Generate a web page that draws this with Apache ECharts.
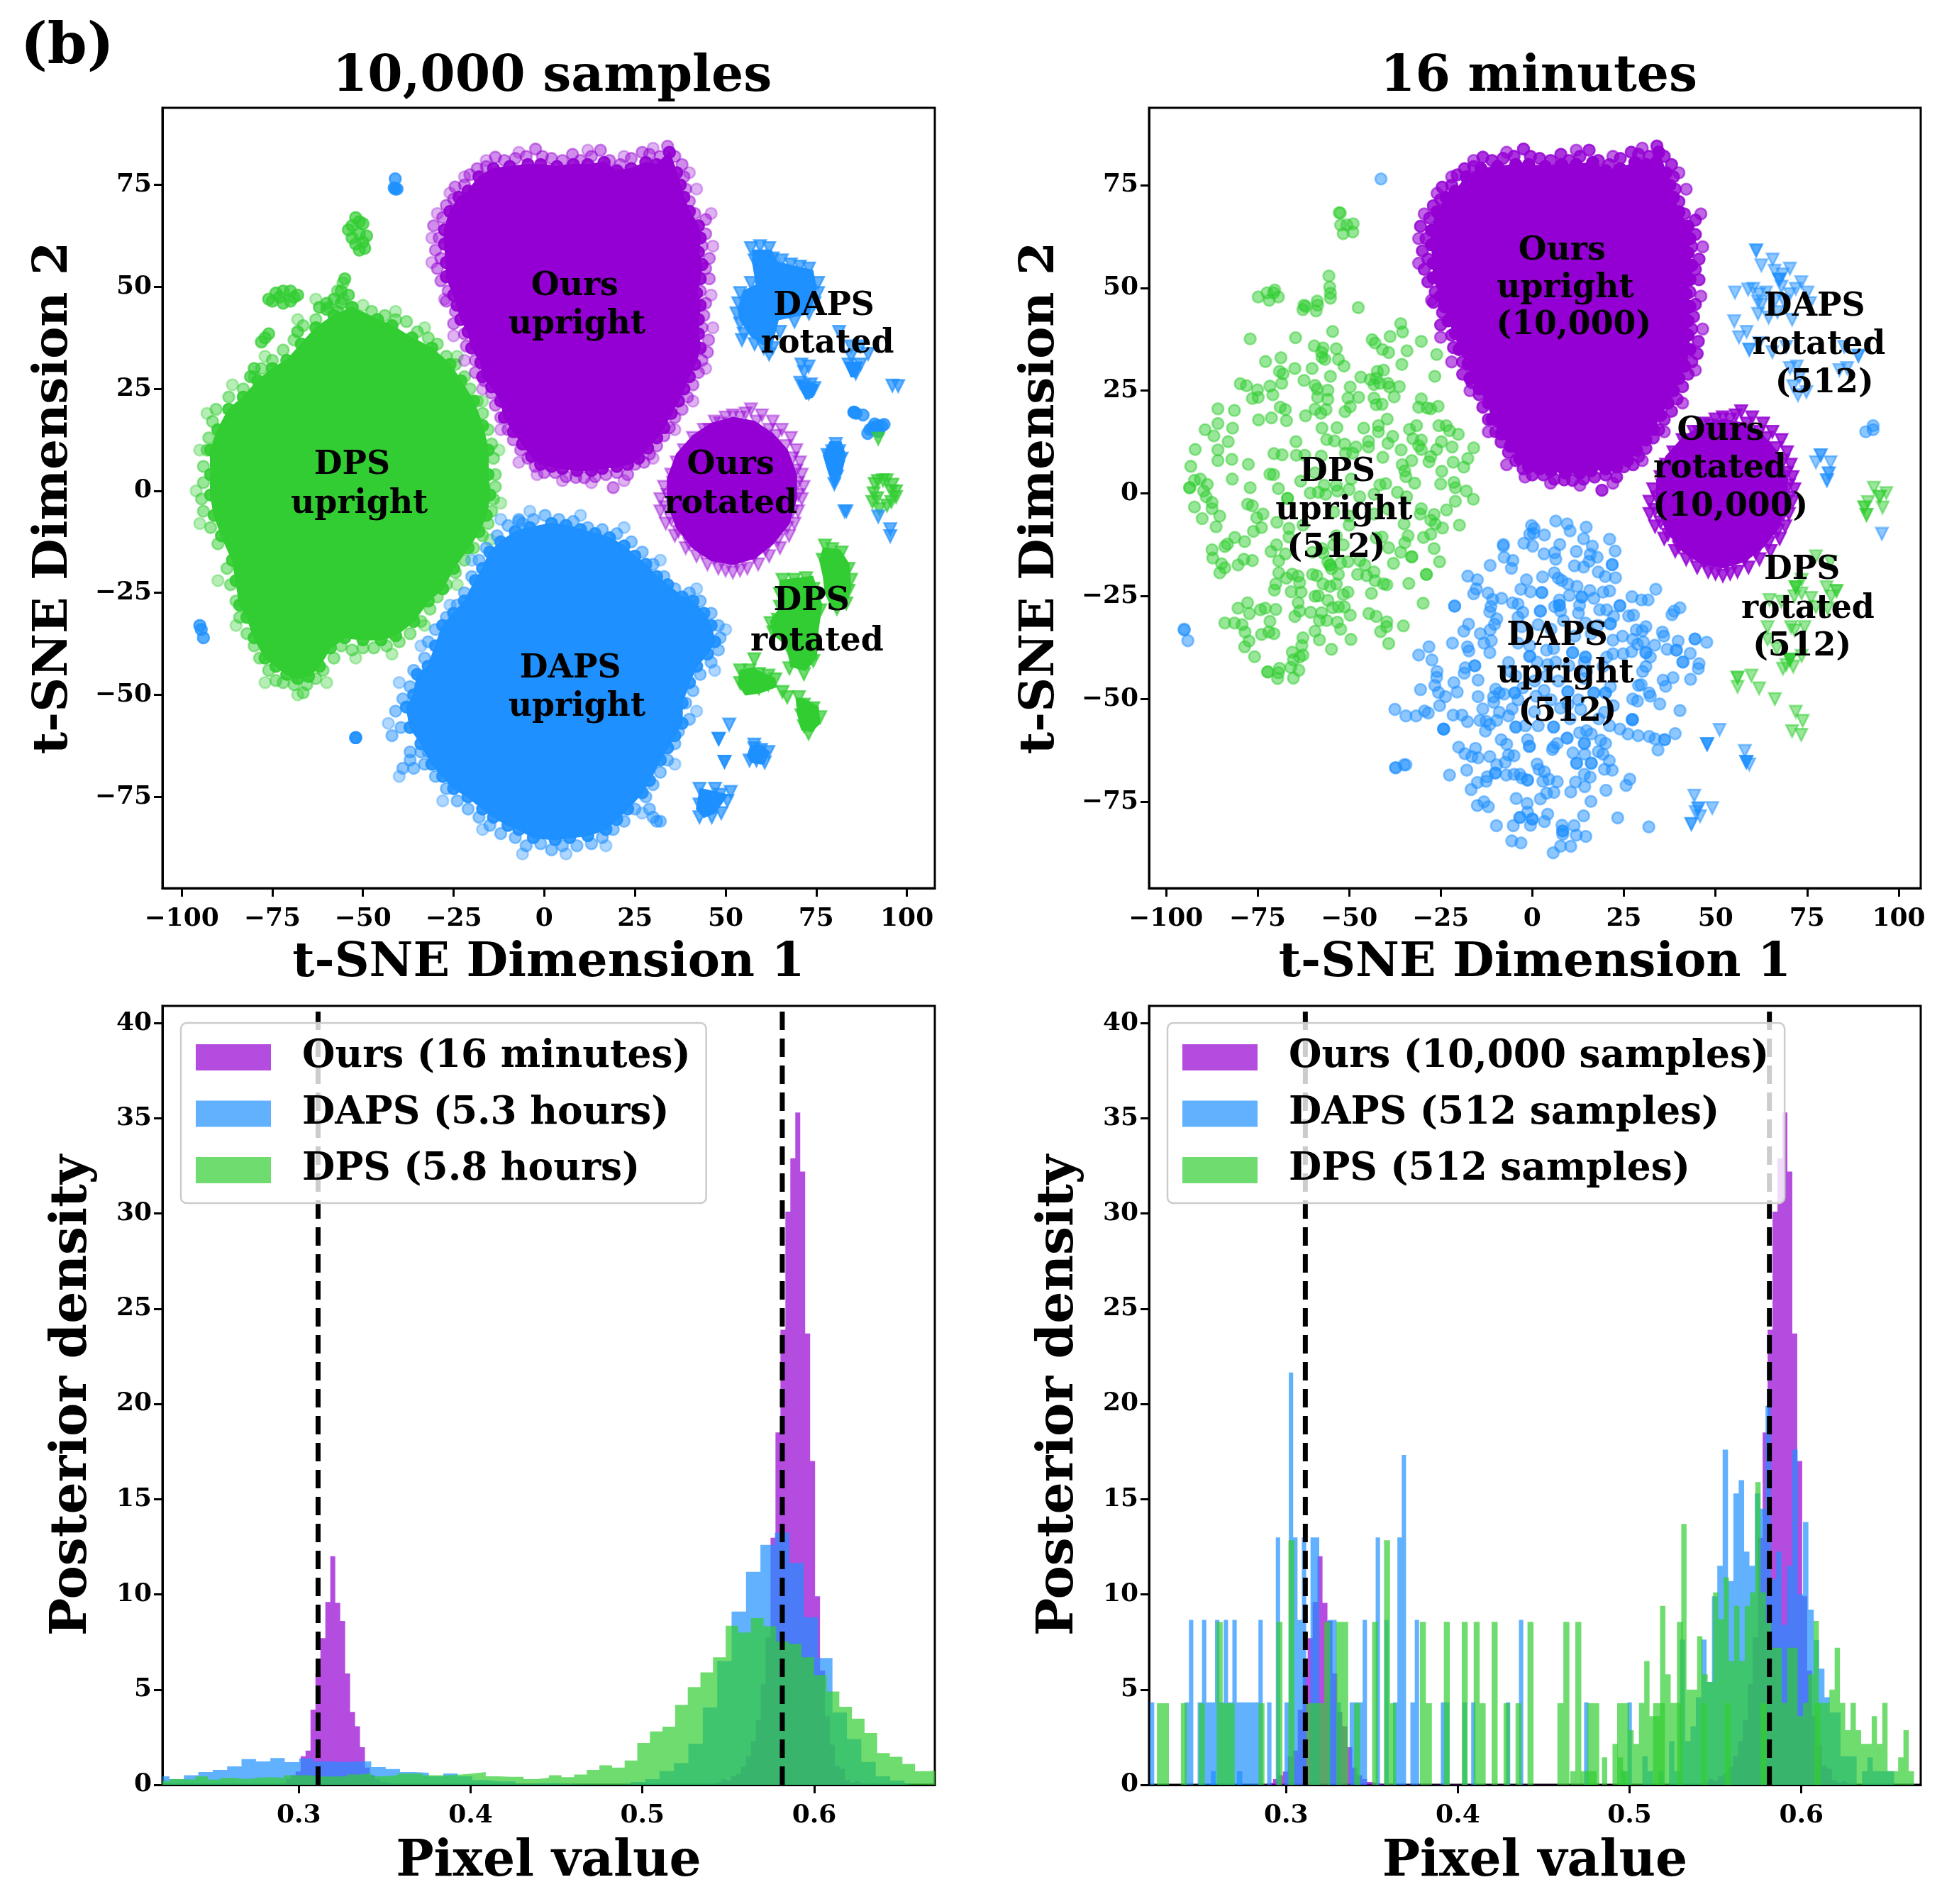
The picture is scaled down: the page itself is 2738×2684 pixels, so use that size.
<!DOCTYPE html>
<html><head><meta charset="utf-8"><style>html,body{margin:0;background:#fff}#c{width:2738px;height:2684px}</style>
<script src="https://cdn.jsdelivr.net/npm/echarts@6/dist/echarts.min.js"></script></head>
<body><div id="c"></div><script>
// t-SNE embeddings: flat x,y lists, one per cluster and drawing layer.
// The *Mid lists walk round the saturated body of a cluster; Rim and Loose hold its edge points.
const oursUprightRim=[34,84.5,32,82,29,82.5,27,83,24,81.5,21,80,18,81,15.5,83.5,13,82,10,81,7.8,82.5,5,81,2,81.5,-.5,82,-2.4,83.8,-5,82,-8,81.5,-11,81,-13.5,81.8,-16,79.5,-18.5,79,-20.5,77.5,-22,75,-24.6,74.5,-25,71.5,-27,70,-28,67,-30.5,65,-29,62,-30,59,-28.5,57,-29.5,54.5,-28.5,51.5,-26.5,49,-27,46.5,-24.5,44,-25,41,-22,38.5,-21.5,35.5,-19,32,-19,29,-16.5,27,-14.5,24,-13.5,21,-12,18,-10,15,-8.5,12.5,-6.5,10,-4.5,8,-2.5,6,0,4.5,3,4.5,6,3.5,8.7,3.3,11,3.2,14,3.5,17,4,19,.8,20,4.5,23,4,25,6.5,27.5,7,29,9,31,11,33,13.5,34.5,15.5,36,18,38,20,39.5,23,41,26,42.5,29,43.5,32,45,34,45.3,37,43.5,40,44,43,44.5,46,43,49,45.5,52,44.5,54.5,45.5,57,43.5,60,44.5,63,44.5,66.5,41.5,68,40,71,39,74,38.5,77,38,80,36,82];
const oursUprightLoose=[30,84,22,82,12,83.5,-7,83,-16,81,-22,77,-26,73,-29.5,68,-31,62,-31,56,-27.5,47,-25,38,-22,32,-17,25,-12,15,-7,7,-2,4,5,2.5,13,2,22,2.5,30,8,36,15,41,22,44.5,30,46.5,40,46,48,46.5,60,46,68,42,74,40,78];
const oursUprightMid=[34.5,83,31,80,28,80.5,24,79,20,78.5,16.5,80.5,12,80,8,80,3.5,79.5,-1,80,-4.5,80,-9.5,79.5,-14,79,-18,77,-21,73.5,-23.5,72,-26,68.5,-27.5,64,-27.5,60.5,-27,56,-27,52.5,-25,48,-24,45.5,-23,42,-21,39,-20,35,-17.5,31.5,-17,28,-14.5,25.5,-12,22,-11,18,-8.5,14.5,-6,11.5,-3.5,8.5,-1,6.5,2,6,5,5.5,9,5,13,5,16,5.5,20,6,23,6.5,26,8,28.5,10.5,31,13,33,15.5,35,19,37,22,38.5,25,40,28,41.5,31,43,35,42.5,38.5,42.5,42,43,45.5,42,48.5,43,52,43.5,55.5,42.5,58.5,43,62,42.5,65,40,68.5,38.5,72,37.5,75,36.5,78];
const oursRotatedRim=[57,20,54,18,60,18.5,50,18,47,17,63,17,65.5,15,44,15,68,13,41,13,69.5,10,38.5,10,70.5,7,36.5,7,71,4,35,4,71.5,1,33,1,71,-2,32,-2,70,-5,32,-5,69,-8,33.5,-8,67.5,-11,36,-11,65,-14,39,-14,62,-16,42,-16,59,-18,45,-18,56,-19,48,-19,52,-20,54,-19.5,50,-19.5,55.5,19,58.5,17,52,18.5,48.5,16.5,45.5,15,62,15,64,13.5,42.5,12,66.5,11,40,9,68.5,8,37.5,5,69.5,5,35.5,2,70,2,34,-1,70,-1,33.5,-4,68.5,-5,35,-7,67,-9,37,-10,64.5,-12,40,-13,61,-14.5,43.5,-15,58,-16,47,-16.5,53,-17];
const oursRotatedSolid=[52,18,58,17,63,14,67,10,69.5,4,69.5,-2,67.5,-8,63,-13,58,-16.5,52,-18,46,-17,41,-14,36.5,-9,34,-3,34,3,36.5,9,41,13.5,46,16.5];
const dpsUprightRim=[-47.6,44,-44,43,-41,42,-38,41.5,-35,39,-32,37.5,-29.5,36,-27,33,-24.5,31,-22,28,-20.5,25,-18.5,22,-17,19,-15.5,15,-14.5,11.5,-14,8,-13.5,4,-13.5,1,-14,-2,-14.5,-5,-15.5,-8,-17,-11,-19.5,-14,-22,-17,-24.5,-20,-27,-23,-29.5,-26,-31.5,-29,-34,-32,-37,-35,-40,-37,-43.5,-38,-47,-38.5,-50,-38.5,-53,-39,-56,-38,-58,-41,-61,-44,-63,-46,-65.5,-47.5,-66.5,-49.5,-69,-47.5,-72,-47,-74,-46.5,-76,-44,-78.5,-41,-80,-38,-82,-35,-84,-31,-85,-27,-86.5,-23,-87.5,-19,-90,-13,-92,-9,-94,-5,-94.5,-2,-94,2,-94,6,-93,10,-92.5,13,-91.5,17,-90.5,20,-87,23,-83,25,-80,28,-78,30,-75,32,-72,34.5,-69,37,-66.5,40.5,-63,42,-59.5,45,-55.5,47,-52,43,-55.5,51,-57,49];
const dpsUprightLoose=[-50,45.5,-41,44,-33,40,-24,33,-17,22,-12.5,10,-12,-3,-15,-12,-24,-23,-33,-33,-42,-40,-52,-41,-60,-47,-68,-50,-77,-47,-85,-33,-90,-22,-95,-8,-96,0,-95,10,-93,19,-86,26,-77,33,-68,42,-63,47];
const dpsUprightMid=[-46,42,-42,40.5,-36.5,37.5,-31,35,-26,31,-23,27,-19.5,22,-17,16,-15.5,10,-15.5,4,-15,-1,-16,-6,-18,-10,-21,-14,-25,-19,-28,-24,-32,-27,-36,-32,-41,-35.5,-45,-36.5,-50,-36.5,-55,-36,-59,-38.5,-62,-43,-65,-45.5,-68,-46,-71,-45,-74,-43,-77,-41,-80,-36,-82,-31,-84,-28,-85,-22,-86,-17,-89,-11,-91,-6,-92,-1,-92,4,-92,10,-90,15,-87,20,-83,23,-79,27,-75,30,-71,32,-67,36,-63,40,-58,43,-53,45];
const dpsOutlying=[-52,67,-50,65.5,-53,65,-51,63,-49,62.5,-52,60.5,-51,59,-50,61,-53,62,-54,64,-51,66,-49.5,59.5,-76,47,-74,48.5,-72,49,-70,49,-68,48,-75,46.5,-72,46,-70,46.5,-73,47.5,-69,47.5,-76,38.5,-78,36.5,-77,37.5,-62,45,-60,44.5,-58,47,-56,49,-55,52,-56,46,-60,46,-80,30,-81,28,-68,39,-57,44,-54,48];
const dapsUprightRim=[.2,-6,4,-7,8,-7.5,12,-9,16,-9.5,20,-10.5,24,-12.5,27,-15,30,-18,33,-21,36,-24,40,-25,43,-27,46,-30,48,-33,48.5,-36,48,-39,46,-42,43,-45,41,-49,39,-52,40,-56,37,-59,36,-62,34,-66,32,-69,30,-72,28,-75,25,-78,22,-81,19,-83,16,-85,13,-86.5,9,-87,5,-87,2,-88,-1,-86.5,-5,-87,-8,-85,-12,-84,-15,-82,-18,-80,-21,-78,-24,-76,-27,-73,-30,-70,-33,-67,-36,-68,-39,-68,-37,-64,-42,-60,-39.5,-58,-41,-54,-39,-51,-37,-48,-36,-44,-33,-41,-32,-37,-30,-34,-27,-31,-24,-28,-22,-25,-20,-21,-18,-17,-16,-14,-13,-11,-10,-8.5,-6,-8,-3,-7,29,-78,30,-80,32,-81,31,-81,-7,-7,-7,-7.5,-37,-66,-34,-64,-32,-64];
const dapsUprightLoose=[-4,-5,10,-6,22,-9,32,-17,42,-24,50,-34,47,-44,42,-54,36,-67,27,-79,17,-87,6,-89,-6,-89,-17,-83,-28,-76,-40,-70,-43,-57,-40,-47,-34,-38,-26,-28,-20,-17,-12,-7];
const dapsUprightMid=[2,-8,6,-8.5,10,-9.5,14,-10.5,18,-11.5,22,-13.5,25,-16,28,-18,31,-21,34,-23,38,-26,41,-27,44,-30,46,-33,47,-37,45,-40,42,-43,40,-47,38,-52,38,-57,36,-60,34,-63,32,-66,29,-71,27,-74,23,-78,20,-80.5,17,-83,12,-84.5,7,-85,3,-85.5,-3,-85,-7,-83,-10,-82,-14,-80,-17,-78,-21,-75,-25,-73,-28,-70,-31,-67,-34,-62,-37,-58,-38,-53,-36,-50,-35,-45,-32,-43,-30,-38,-28,-33,-25,-30,-22,-27,-19,-22,-17,-19,-15,-15,-12,-12.5,-8,-10,-4,-9];
const dapsStrayCircles=[-41.1,76.5,-41.1,74,-40.6,74,-41.4,74.3,-95,-33,-94.6,-34,-94,-36,-52,-60.5,-52,-60.5,85.4,19.3,85.4,19.3,86,19,87.9,18.6,89.8,15,91.1,16.4,93.1,15.9,89.2,14.1,93.7,16.3,92.1,14.6,90.5,15.5,92,16];
const dapsRotatedDense=[57,59.5,59.5,60,62,59.5,58,56.5,63,57,65.5,56.5,68,55.5,70.5,55,73,54.5,57,51,75.5,51,54,48.5,75.5,48.5,53.5,46,74.5,46,53,43.5,73,43.5,54,41,69,41.5,55,38.5,65,39,54.5,37,58,36,60.5,35,63,35,62,33.5,81.3,39,84.6,35.4,87.2,35.4,89.3,33.6,83.9,31,85.9,30,87.2,31,85.9,28.8,84.6,33,70.9,31,72.9,30.5,71.6,29.2,71.6,25.7,73.5,26.1,74.5,25.2,72.9,23.9,70.6,26.5,97.6,25.7,96,25.8,80.4,11.5,78.7,7.9,82,7.9,80,5.7,80.7,3.5,80,1.7,79.4,9.7,81.3,9.7,81,5.7,78.1,8.8,83.3,-5,82.8,-5,92.1,-6.3,95.4,-9.4,95.4,-11.1,51,-57.3,48.1,-60.8,48.1,-60.8,49.7,-66.4,49.7,-66.4,57.9,-63.1,59.8,-63.5,61.8,-64,56.6,-66.1,58.5,-66.1,60.8,-66.6,57.9,-62.2,42.8,-73,47.1,-73,51.4,-73.8,42.8,-76.9,47.1,-76.9,50.5,-76,42.8,-80,46.2,-80,44.5,-75.3,48.8,-79,45,-78,48.5,-74.5];
const dpsRotatedDense=[77.4,-13.4,79.4,-14.3,82,-15.1,76.8,-16.9,83.9,-19.1,84.6,-21.8,83.9,-24.5,83.3,-27.6,80.7,-28.9,65.7,-21.8,68.9,-21.8,72.2,-21.4,65,-25.3,74.2,-24,65,-28.4,62.4,-32.4,64.4,-31.6,65.7,-33.8,63.1,-34.7,76.1,-29.3,67.6,-39.1,74.2,-41.7,71.6,-44.9,67.6,-43.5,57.9,-41.3,54,-44,56.6,-44,59.2,-44.9,61.8,-45.3,63.7,-46.2,54,-47.1,56.6,-48,59.2,-48.4,61.8,-47.5,65.7,-49.3,67,-50.6,70.2,-50.6,71.6,-52.4,74.2,-53.3,70.9,-55,76.1,-55.5,71.6,-57.7,74.2,-57.3,72.9,-59.5,93.4,2.6,91.1,1.7,95.7,-.1,97,-.1,95.7,-2.7,91.8,-1.8,90.5,-2.7,92.4,-4.5,94.4,2.6,92,2.4,96,1.5,97,-1.5,94.5,-3.6,90.8,-.6,92.1,12.8];
const dapsRotatedPatches=[[57.5,59,62.5,59,64.5,56,74,54,75,49.5,73,43.5,64.5,42,62.5,35,60,36,57,38,54,42,53.5,44.5,55,49,58.5,50.5,57.5,56],[57,-62.5,60,-62.5,62,-64,60.5,-67,57,-66.5,56,-65],[43,-73,50.5,-74.5,47,-79,44,-80,42,-78],[70,27,75.5,26,74,23,72.2,22.5,71,24.5],[83,31.5,87.5,31.5,86,28,84.6,28],[78.8,12,81.8,12,83,8.8,82,4.6,80,.8,78.4,4.6,77,8.8]];
const dpsRotatedPatches=[[77,-14,81.5,-14.5,84,-18,84.5,-24,83,-28,79.5,-29,77.5,-25,77,-21,76,-17],[65,-22,74,-21,76.5,-28,75.5,-34,75,-41,72,-44,68,-43,67,-38,63,-35,62.5,-32,65.5,-28,65,-24],[54,-44,57.5,-43.5,63.5,-46,64,-48,59.5,-49.5,55.5,-50,53.5,-47.5],[69.5,-51,71.5,-51,75.5,-53,76,-57,73.5,-59,71,-58.5,70,-55]];
const dpsUprightSparse=[-52.7,68.3,-52.4,68.2,-52.3,65.3,-50.6,65.3,-48.9,65.6,-51.6,63.2,-49,63.6,-55.5,52.9,-55.3,50.2,-55.1,48.7,-55.1,47.5,-74.8,47.8,-72.4,48.8,-70.3,49.5,-70.6,48.8,-69.3,47.8,-71.8,47,-62.3,45.8,-62.6,44.7,-61.9,45.5,-58.7,46.8,-58.6,45.8,-59,44.4,-47.5,45.2,-77,37.6,-64.6,37.9,-54.5,39.4,-35.9,41.3,-35.4,39.3,-38.8,38.2,-43.7,37.4,-42.9,36.6,-40.9,35,-39.2,34.3,-30.3,37,-34.2,34.7,-26.1,33.8,-35.6,31.4,-26.6,28.5,-59.5,35.9,-57.1,35.4,-57.5,34.3,-57.4,33.1,-56.6,32.6,-53.5,35.2,-52.9,32.6,-51.4,31,-68.6,33,-72.8,32.1,-64.8,30.4,-60.1,30.4,-69,29.7,-68,29.1,-55.1,28.5,-62.3,27.5,-40.6,30,-42.3,29.7,-42.6,28,-46.8,28.3,-44.2,27.7,-43.2,26.5,-41.6,26.8,-39.4,26.8,-39,25.9,-36.3,26,-37.7,23.5,-43.2,23.2,-42.6,21.6,-41,21.7,-30.3,23,-31,21,-28.7,20.8,-27.7,20.6,-25.7,21.2,-79.7,26.7,-78,26.2,-71.6,26.1,-68.4,26.8,-70.8,24,-75,25.2,-76.4,23.1,-74.8,23.4,-59.3,26.3,-58.7,25.4,-55.8,25.1,-58.6,23.4,-55.8,22.9,-49.7,25.9,-50.3,23.2,-47.4,23.4,-49.7,21.1,-51.1,19.9,-59.3,20.5,-57.7,19.5,-56.3,20.4,-61.9,18.9,-85.8,20.6,-81.3,20.2,-68.8,21,-67.4,20.4,-74.7,17.9,-71.2,18.4,-67.1,17.7,-85.8,17,-89.3,15.5,-81.8,15.9,-86.9,14,-83,12.6,-57.4,15.9,-53.3,16,-46,15.9,-42,16.5,-42,15,-39.6,18.1,-33.5,15.6,-31.6,16.5,-25.5,16.5,-23.5,16.5,-22.6,15.3,-20.2,14.4,-56.1,13.1,-54,12.8,-51.2,12,-48.1,11.3,-44.7,12.7,-44.7,11.3,-64.5,12.6,-38.1,13.9,-39.4,12.2,-35.8,10.6,-32.6,13.3,-30.3,13,-31,11.6,-30.3,10.7,-24.8,12.6,-21.9,11.3,-16,11.1,-26.1,10.7,-27.7,9,-92,10.7,-85.8,10.6,-82,8.3,-85.8,8,-77.5,7.1,-93.2,6.6,-70.5,9.7,-68.3,9.4,-64.4,9.3,-62.1,9.3,-57.6,9.1,-51,9.8,-49,9.8,-40.8,8.8,-32.9,8,-28.2,7.7,-21.6,7.6,-17.6,8.5,-18.7,6.4,-35.5,7,-34.8,5.5,-24.7,5.4,-81.9,3.5,-71.6,4.7,-70.6,4.6,-90.6,3.5,-92.2,3.2,-88.7,2.2,-93.5,1.4,-93.5,1.4,-89.7,.6,-89,-.8,-77,1.4,-69.3,1.2,-63.2,3,-49.4,3.5,-41.6,2.1,-40,2.4,-34.5,4.1,-32.1,2.5,-25,2.3,-21.4,2.7,-21,1.4,-18,.6,-16.1,-1.4,-21,-1.9,-87.4,-2.2,-92.2,-3.3,-87.4,-3.7,-77.7,-2.6,-76.4,-3,-66.8,-1.2,-66.8,-1.2,-60.6,.1,-58.4,.3,-56.4,-.2,-53.2,.6,-50,1,-47.1,-.8,-43.2,-.2,-36.8,.3,-34.3,-.8,-85.3,-5.5,-90.1,-6.1,-86.3,-8.1,-73.5,-5,-75.2,-5.9,-73.9,-8.3,-76.1,-9.2,-69.7,-7,-66.4,-8.5,-30.3,-3.7,-30.6,-5,-23.4,-4,-26.8,-5.1,-27.7,-6.5,-26.5,-7.4,-24.5,-8.4,-19.9,-7.7,-35,-7.4,-50,-7.7,-62.6,-7.7,-33.9,-10.3,-29.7,-10.7,-27.7,-9.9,-34.8,-12,-41,-10.6,-42.6,-10.8,-53.5,-10.3,-66.4,-10.6,-81.2,-10.7,-78.5,-11.7,-83.2,-12.3,-83.9,-12.9,-87.4,-13.7,-59.3,5,-56.8,2,-53.5,2,-54.2,-4.5,-50,-5.5,-43.2,-5,-39.4,-3.8,-87.2,-15.7,-78.7,-16,-76.4,-16.3,-80.3,-17.4,-84.8,-17.1,-83.9,-18.1,-85.3,-19.3,-69.8,-12.5,-71.3,-14.1,-67.4,-14.7,-69.2,-16.4,-69.2,-19.3,-67.1,-20.6,-65.5,-19.6,-63.9,-20.1,-70,-22,-70.4,-23.5,-63.5,-21.7,-65.8,-23.9,-63.1,-24,-63.9,-26.6,-63.5,-28.6,-64.8,-29.9,-60,-19.7,-58.8,-20,-53.5,-22,-57.1,-22,-55.2,-22.6,-52.9,-19.7,-58.4,-24.9,-59.3,-25,-55.8,-26,-51.6,-24.6,-50.3,-24,-47.7,-19.7,-45.2,-20,-43.2,-19.1,-42.9,-21.2,-40.6,-22,-39.7,-22.2,-43.9,-24.3,-33.7,-21.9,-28.9,-19.7,-28.9,-19.7,-29.8,-26.7,-60.5,-28.9,-57.5,-29,-54.5,-27.8,-52.9,-27.6,-51.3,-27.6,-49.7,-29.6,-58.1,-30.9,-56.1,-30.9,-53.2,-31.3,-52.3,-33,-59.3,-33.5,-58.1,-35.6,-54.8,-37.9,-49.5,-35.5,-44.6,-29.2,-42.6,-29.9,-39.7,-31.2,-39.8,-32.4,-41.4,-33.6,-35.2,-32.2,-39.2,-36.5,-80.3,-27.9,-77.7,-26.6,-77.2,-29.2,-74.2,-28.3,-72.9,-27.9,-70,-28.2,-71.6,-31.1,-83.9,-31.5,-81.3,-31.5,-79.2,-31.9,-78.4,-33.7,-73.9,-34.3,-71.9,-33.7,-70.5,-34.1,-77.3,-35.9,-78.5,-37.3,-75.8,-39.7,-62.6,-35.1,-62.9,-37,-65.5,-38.6,-62.6,-39.3,-63.5,-39.8,-65.2,-40.5,-63.7,-43,-65.9,-42.3,-69,-42.5,-69.3,-43.6,-69.5,-45,-65.2,-44.9,-72.2,-43.4,-72.2,-43.4,-32.9,-15.4,-32.9,-15.4,-37.9,-17,-25.3,-16.6,-26.8,-13.4,-35.9,-14.3,-39.2,-13.2,-55.2,-17.4,-55.2,-17.4,-54.8,-18.3,-50.3,-16.6,-45.7,-17.4,-47.1,-16.3,-51.6,-12.5,-54.2,-12.5,-57.4,-13.4,-60,-14.3,-57.1,-14.5,-55.8,-16.6,-52.3,-16.9];
const dapsUprightSparse=[6.4,-6.7,9.5,-7.4,10.3,-9.1,14.7,-8.2,-.2,-7.8,.5,-8.5,.3,-9.7,-.7,-9.9,3.3,-10.1,-2.3,-12.1,.1,-12.8,7.5,-12.4,14,-11,21.1,-11.1,16.4,-12.8,22.6,-14,-7.9,-12.4,-7.9,-12.8,3.2,-14.7,6.1,-14.4,6.4,-16,12,-14.1,15.8,-14.8,17.7,-15.5,15.5,-16.5,-7.7,-15.5,-5.3,-16.3,-5.7,-18.2,-11.5,-17.5,11.5,-17.6,14,-17.9,21.8,-17.3,21.8,-17.3,-17.6,-20.1,-15,-21,18,-19.1,19.9,-20.2,22.7,-20.5,6,-19.3,7.1,-20.6,8.1,-21.2,9.7,-22,2.8,-20.3,-1.6,-21,12.2,-22.6,-3.1,-23.3,-.5,-23.9,2.6,-24.1,2.6,-24.1,-15.3,-23.2,-16,-24.4,-12.1,-24.2,-10.8,-25.8,-8.4,-25.5,10.1,-24.8,15.7,-23.6,19.3,-24,21.1,-23.7,13.5,-25.2,13.5,-25.2,16.8,-25.5,33.7,-23.3,27.2,-25.1,29.8,-25.9,31.6,-25.9,7.4,-25.9,7.4,-27.2,7.4,-27.2,6.1,-27.5,-5.4,-26.6,-3.9,-26.9,-11.3,-27.5,-11.6,-28.8,-21.2,-27.4,-21.2,-27.4,-2.6,-28.9,2.2,-28.6,2.2,-28.6,7.7,-28.6,12.9,-27.2,12.6,-29.1,23.9,-27.3,23.9,-27.3,18.4,-28.3,20.3,-28.3,22.2,-29.9,40.3,-27.8,38.7,-28.6,38.1,-29.5,26.3,-29.8,27.6,-29.6,-3.9,-30.1,-9.7,-30.5,8.5,-30.9,14.5,-31.5,17.9,-32.1,21.3,-31.7,21.3,-31.7,-17.4,-31.8,-18.7,-33.5,-10.3,-31.8,-11.5,-33.2,1.6,-31.9,-14.2,-34.1,31,-32.4,28.4,-33.2,30,-33.4,24.6,-34.7,35.5,-33.7,35.9,-34.7,-13.2,-36.4,-11.2,-35.8,-21.8,-36.4,-17.7,-37.3,-17.3,-38.3,22,-35.7,27.4,-35.5,28.7,-36.7,30.3,-36.1,33.4,-36.9,39.8,-35.9,44.4,-35.4,44.4,-35.4,47.6,-36.2,-28.2,-37.3,-31,-39.3,-11.6,-38.7,-27.4,-40.5,3.9,-38.1,5.8,-37.7,11,-38.7,11,-38.7,-.7,-39.6,-.7,-39.6,14.5,-39.8,14.5,-39.8,20.3,-39.8,22,-39,24.8,-39,27.1,-38.5,31,-38.7,31,-38.7,32.2,-39.8,36.8,-37.9,39.3,-38.1,39.3,-38.1,43.1,-38.9,41.1,-41,41.1,-41,45.5,-41.4,45.3,-42.6,-6.5,-41.1,1.3,-41,4.2,-41.6,-15.7,-41.9,-15.7,-41.9,-18.3,-42.4,-18.6,-43.7,-26,-43.3,-26.1,-44.7,-26.6,-46.7,-21.4,-46,-14.8,-45.4,-30.5,-47.7,-20.5,-48.3,-25.6,-48.4,-23.7,-49.4,31,-42.1,30.1,-43.3,35.7,-45.4,38.4,-44.8,43.2,-45.2,36.4,-46.9,29.7,-46.5,29,-46.7,10,-41.9,19.3,-42.1,14.8,-43.3,-5.9,-43.3,-4.5,-44.4,3.9,-44.4,-10,-47.6,-9,-48.5,-4.8,-48.5,-4.8,-48.5,-7.7,-48.8,-10.6,-49.5,-14.8,-49.4,-10.5,-50.8,-25.3,-51.6,3.2,-47.9,9.7,-48.2,9.7,-48.2,16.8,-48.5,16.8,-48.5,20,-48.5,20,-48.5,21.3,-47,1,-49.3,5.1,-50.2,12.6,-50.2,27.4,-50,28.7,-50.5,31.9,-48.5,32.2,-49.3,34.8,-51.2,40.3,-52.8,-29.4,-52.9,-28.4,-53.4,-31.7,-54.1,-34.5,-54.1,-21.6,-53.9,-19.2,-53.9,-17.7,-55.5,-13.5,-52.4,-9,-53.2,-6.5,-54.1,-5.5,-52.4,7.7,-52.2,13.2,-52.5,19.7,-53.2,22.1,-51.6,27.3,-55,27.3,-55,27.3,-55,-14.3,-55.2,-12.6,-55.4,-11.6,-56.2,-9.7,-55.2,-12.8,-57.8,-24.2,-57.3,-24.2,-57.3,-24.2,-57.3,-4.5,-56.8,-4.5,-56.8,-1.9,-56.5,1.6,-56.5,5.8,-56.8,5.8,-56.8,21.1,-56.5,23.9,-57.3,26.1,-58.5,28.9,-58.9,31.9,-59.1,33.5,-59.7,36.1,-59.9,36.1,-59.9,39,-58.4,34.3,-62.4,5.8,-61.7,6.8,-60.8,9.5,-59.5,9.5,-59.5,12.9,-58.2,14.8,-57.7,16.1,-58.5,14.2,-60.8,14.2,-60.8,18.7,-60,20,-60.8,-1.3,-59.9,-.8,-61.5,-.8,-61.5,-8.5,-59.9,-7,-61,-20.1,-61.7,-15.5,-62,-18.4,-63.3,-16.5,-64,-14.8,-64.3,-11.6,-64,-6.5,-63.6,-5,-63.8,11.1,-63.1,14.3,-63.4,18,-62.8,19.3,-63.4,21,-65,12.1,-65.6,12.1,-65.6,16.1,-65.6,16.1,-65.6,19.7,-67.1,21.8,-67.3,5.5,-62.3,-34.5,-66,-7.4,-65.4,-9.7,-66,-10.1,-68,-10.1,-68,-7.1,-68.5,-5,-68.3,-3.4,-68.3,-2.9,-69.2,-1.3,-69.7,-1.3,-69.7,1.3,-65.8,1.8,-67.1,3.3,-67.7,6.8,-70.1,4.5,-69.5,2.9,-70,-17.9,-67.3,-22.6,-68.5,-12.3,-68.9,-12.6,-70,-15,-70.3,-16.7,-72,14.2,-68.3,15.8,-69,11.8,-70.2,14.3,-71.3,10.5,-72.6,20.1,-72.2,26.6,-69.5,25.6,-71,5.9,-72.7,3.9,-72.9,2.2,-74.3,-4.4,-74.2,-1.4,-75.4,16,-74.9,-13.2,-75,-15,-75.9,-12,-76.2,-1.3,-77.5,-3.4,-78.8,-3.4,-78.8,0,-79.2,0,-79.2,-.5,-80.7,4.2,-78,3.3,-79.8,14,-78.4,23.3,-78.9,-9.8,-80.8,-5.2,-80.8,8.1,-80.7,11.4,-80.8,8.3,-82.1,8.3,-82.1,8.3,-82.9,12,-83.1,14.6,-83.4,31.8,-81.1,-5.6,-84.5,-3.1,-85,7.7,-85.8,10.5,-85.8,5.7,-87.4,-2.9,-32.4,-3.9,-36.4,-.7,-37,5.1,-33,11.6,-34.7,16.1,-34.1,-2.6,-47.3,.6,-45.6,7.1,-45.6,14.2,-45,-3.9,-50.2,.6,-53.1,10.3,-54.8,18.1,-54.8,9.7,-51.3,6.4,-41,14.2,-41,-37.5,-52.5,-37.3,-66.7,-37.3,-66.7,-35,-66,-41.3,76.5,-95,-33,-95,-33.2,-94,-35.8,93,16.5,93,15.5,91,15];
const dapsRotatedSparse=[61.1,59.1,61.1,59.1,62.5,55.5,65.6,56.9,66.1,54.2,70.3,54.7,67.4,52,67.4,52,67.4,52,68.3,53.3,68,50.3,55.3,48.9,58.9,49.6,60.3,49.8,61.9,48.5,63.8,48.9,73.4,51.4,71.9,49.8,75.1,48.9,70.3,48.5,61.6,46.7,62.5,45.9,66.4,47.2,68.7,46.7,75.8,46.3,61.6,43.7,64.5,42.8,66.9,44.1,70.9,42.3,55.1,41.9,58.5,39.3,56.4,38,59.2,35,59.2,35,61.9,36.6,69.3,35.7,70.3,30.5,72.2,30.9,65.5,34.4,85.1,35.7,89,33.5,89,33.5,83.8,30,85.9,30.5,72.9,28.3,72.5,23.9,74.8,24.7,71.2,26.1,78.7,9.3,78.7,9.3,77.4,7.6,81.4,7.6,80.9,4.9,80.9,4.9,80.4,3.2,80.4,3.2,95.4,-9.8,51.1,-57.5,47.7,-61,47.7,-61,47.7,-61,58,-62.6,58.4,-65.3,58.4,-65.3,58.4,-65.3,59.2,-65.9,44.2,-73.5,45.3,-76.6,45.3,-76.6,44.6,-77.5,45.8,-78.5,49.1,-76.5,43.4,-80.4,43.4,-80.4];
const dpsRotatedSparse=[93.2,1.4,96.6,.1,94.8,-.8,94.8,-.8,91.6,-2.1,95.6,-3.4,90.6,-3.4,90.6,-3.4,91.2,-5.2,91.2,-5.2,77.4,-15.3,81.4,-16.6,73.5,-21,71.9,-22.8,71.9,-22.8,71.9,-22.8,80.3,-22.8,83,-23.7,83,-23.7,81.6,-25,64.7,-25.9,68,-26.3,71.5,-25,73.5,-24.3,76.1,-25.4,77.4,-27.6,80.6,-28,64.2,-32.5,70.6,-32.5,74.3,-32.5,71.6,-33.3,64.2,-35.5,66.7,-37.7,73.5,-39.5,70.3,-40.4,70.3,-40.4,70.3,-40.4,70.3,-40.4,68.4,-42.6,71.2,-42.1,69.3,-41.7,56,-44.8,56,-44.8,56,-47,59.8,-44.3,61.9,-47.4,66.2,-50,71.9,-53.1,73.8,-55.3,70.9,-57.8,73.4,-58.7];

// Posterior histograms: density per bin, read for evenly spaced bins
const oursBinStart=.278, oursBinWidth=.00288;
const oursDensity=[0,0,0,.05,.12,.3,.5,.7,1.5,1.8,3.95,5.87,7.7,9.6,12,9.55,8.6,5.85,3.83,3.07,1.97,.9,.5,.3,.15,.1,.05,.02];
const oursPeakStart=.5429;
const oursPeakDensity=[.12,.3,.22,.45,.57,.95,1.5,2.3,3.4,5.3,7.75,12.97,18.5,23.9,30.1,32.9,35.3,32.2,23.7,17,9.9,6,3.6,2.1,1,.85,.25,.12,.2,.05,0];
const dapsBinStart=.2163, dapsBinWidth=.00839;
const dapsDensity=[.45,.3,.5,.67,.78,.97,1.35,1.23,1.41,1.19,1.38,1.23,1.2,1.22,1.23,.93,.83,.67,.63,.45,.6,.45,.25,.18,.18,.05,.08,.08,.03,.02,.02,.02,.02,.15,.3,.73,1.15,2.16,4.06,6.5,9.1,11.18,12.6,13.24,11.65,8.8,6.66,3.8,2.4,1.2,.45,.22,.07,0];
const dpsBinStart=.2177, dpsBinWidth=.00735;
const dpsDensity=[.2,.3,.28,.45,.28,.37,.3,.37,.4,.37,.5,.5,.44,.44,.45,.54,.6,.45,.5,.6,.6,.5,.5,.54,.6,.67,.45,.42,.42,.3,.37,.5,.4,.54,.78,1.02,.9,1.28,2.2,2.8,3.05,4.2,5.13,5.9,6.7,8.35,8,8.75,8.33,7.53,7.4,6.7,5.76,4.9,4.1,3.47,2.72,1.67,1.47,1.1,.72,.75,.83];
// 512-sample histograms: coarse sample counts per bin plus a finer overlay
const daps512Start=.2207, daps512Width=.002528, daps512PerSample=4.33;
const daps512Counts=[1,0,0,0,0,0,0,0,1,2,0,1,2,1,1,2,1,2,1,2,1,1,1,1,1,2,0,1,0,3,0,1,5,3,2,3,0,3,3,0,0,2,2,1,0,0,1,1,1,2,0,0,3,0,2,0,1,3,4,0,1,2,0,0,0,0,0,1,1,0,0,0,1,0,1,0,0,0,0,0,0,0,1,0,0,2,0,0,0,0,0,0,0,0,0,0,0,0,0,0,1,0,0,0,0,0,0,0,0,0,1,0];
const dps512Start=.2248, dps512Width=.00348, dps512PerSample=4.28;
const dps512Counts=[1,1,0,0,1,0,0,1,0,0,2,1,1,0,0,0,0,1,0,0,2,0,3,0,0,1,1,1,2,0,2,2,0,1,0,0,2,0,3,1,0,0,0,0,2,1,0,0,2,0,0,2,0,2,1,0,2,0,1,0,1,0,2,0,0,0,0,1,2,0,2,0,1,1,0,0,0,1,1,0,0,0,0,1,1,0,0,2,0,0,0,1,0,0,0,1,0,0,0,0,0,1,0,0,0,0,0,0,0,0,1,0];
const dapsFineStrays=[[.2562,.72],[.259,0],[.2714,.72],[.2745,0]];
const dapsFineStart=.4949, dapsFineWidth=.00312;
const dapsFineDensity=[.72,0,0,0,1.5,.72,0,.72,0,2.3,.72,7.63,2.3,3.07,4.6,7.63,5.4,9.9,11.5,17.6,10.7,15.3,16,12.25,11.5,15.3,14.5,19.9,10.8,12.25,8.4,11.5,17.6,10,13.8,9.2,7.6,6.1,4.6,3.8,3.8,1.5,1.5,1.5,0,.72,1.44,.72,.72,.72,.72,0];
const dpsFineStart=.4654, dpsFineWidth=.00308;
const dpsFineDensity=[.72,0,.72,.72,.72,0,1.44,0,2.15,1.44,.72,2.87,2.15,4.3,6.5,3.6,3.6,9.4,5.8,4.3,4.3,13.7,5,5,7.8,5.8,5.4,10.1,8.7,10.9,6.5,9.4,6.5,9.4,10.1,15.9,10.1,8.5,7.2,7.2,4.3,7.2,7.2,3.6,4.3,5.8,8.6,4.3,4.3,5,7.2,4.3,2.87,4.3,2.87,2.15,2.15,3.6,2.15,4.3,.72,.72,1.44,2.87,.72,0];
const trueValues=[.3112,.5814];

// Tick values and text
const xTicks=[-100,-75,-50,-25,0,25,50,75,100], yTicks=[-75,-50,-25,0,25,50,75];
const pixelTicks=[.3,.4,.5,.6], densityTicks=[0,5,10,15,20,25,30,35,40];
const noteLinesLeft=[['Ours',8.4,50],['upright',9,40.7],['DAPS',77.1,45.2],['rotated',78.1,35.9],['Ours',51.4,6.2],['rotated',51.4,-3.3],['DPS',-53,6.2],['upright',-51,-3.3],['DPS',73.7,-27.2],['rotated',75.2,-37],['DAPS',7.2,-43.6],['upright',9,-53]];
const noteLinesRight=[['Ours',8.1,59],['upright',9,49.8],['(10,000)',11.3,40.8],['DAPS',77,45.3],['rotated',78.2,35.9],['(512)',79.7,26.7],['Ours',51.4,15.1],['rotated',51.2,5.9],['(10,000)',54.1,-3.4],['DPS',-53.2,5.1],['upright',-51.4,-4.3],['(512)',-53.5,-13.4],['DPS',73.6,-18.8],['rotated',75.2,-28.2],['(512)',73.6,-37.3],['DAPS',6.8,-34.7],['upright',9,-43.9],['(512)',9.6,-53.2]];

const VIOLET='#9400D3', BLUE='#1E90FF', GREEN='#32CD32';
const FONT='"DejaVu Serif"';
const pairs=f=>{const o=[];for(let i=0;i<f.length;i+=2)o.push([f[i],f[i+1]]);return o;};
const bins=(start,w,h)=>h.map((v,i)=>[start+i*w,v]);

function dots(g,flat,color,shape,size,opacity){
  return {type:'scatter',xAxisIndex:g,yAxisIndex:g,data:pairs(flat),silent:true,animation:false,large:false,progressive:0,
    symbol:shape,symbolSize:size,symbolRotate:shape==='triangle'?180:0,z:2,
    itemStyle:{color,opacity,borderColor:color,borderWidth:2.6}};
}
// Filled outline of a saturated cluster body, projected through the panel's axes
function solid(g,flat,color){
  const outline=pairs(flat);
  return {type:'custom',coordinateSystem:'cartesian2d',xAxisIndex:g,yAxisIndex:g,silent:true,animation:false,z:2,
    data:[outline[0]],
    renderItem:(params,api)=>({type:'polygon',shape:{points:outline.map(p=>api.coord(p))},style:{fill:color,stroke:color,lineWidth:2}})};
}
function notes(g,lines,drop){
  return {type:'scatter',xAxisIndex:g,yAxisIndex:g,silent:true,animation:false,symbolSize:1,z:10,itemStyle:{opacity:0},
    data:lines.map(l=>({value:[l[1],l[2]],name:l[0]})),
    labelLayout:{hideOverlap:false},
    label:{show:true,position:'inside',offset:[0,drop],formatter:p=>p.name,color:'#000',fontFamily:FONT,fontWeight:'bold',fontSize:45.8,align:'center',verticalAlign:'middle',opacity:1}};
}
function hist(g,name,data,color,z){
  return {type:'line',name,xAxisIndex:g,yAxisIndex:g,data,step:'end',showSymbol:false,symbol:'none',silent:true,animation:false,z,
    lineStyle:{width:0,color},itemStyle:{color},areaStyle:{color,opacity:.7,origin:'start'}};
}
function truth(g,v){
  return {type:'line',xAxisIndex:g,yAxisIndex:g,data:[[v,0],[v,40.9]],showSymbol:false,symbol:'none',silent:true,animation:false,z:6,
    lineStyle:{color:'#000',width:7,type:[26,12]}};
}
const txt=(size)=>({fontFamily:FONT,fontWeight:'bold',fontSize:size,color:'#000'});
const minus=v=>String(v).replace('-','\u2212');
function axis(kind,grid,min,max,ticks,name,gap,nameSize,fmt){
  return {type:'value',gridIndex:grid,min,max,name,nameLocation:'middle',nameGap:gap,nameTextStyle:txt(nameSize),
    splitLine:{show:false},axisLine:{show:true,onZero:false,lineStyle:{color:'#000',width:3}},
    axisTick:{show:true,customValues:ticks,length:12,lineStyle:{color:'#000',width:3}},
    axisLabel:Object.assign({show:true,customValues:ticks,margin:kind==='x'?26:15,padding:kind==='x'?0:[16,0,0,0],formatter:fmt},txt(36))};
}
const L=229,R=1620,W=1089,T1=152,H1=1100,T2=1418,H2=1098;
const grids=[[L,T1,W,H1],[R,T1,W-1,H1],[L,T2,W,H2],[R,T2,W-1,H2]].map(b=>({left:b[0],top:b[1],width:b[2],height:b[3],show:true,backgroundColor:'#fff',borderColor:'#000',borderWidth:3,containLabel:false}));

function legend(left,names){
  return {left,top:T2+24,orient:'vertical',icon:'rect',selectedMode:false,z:20,
    itemWidth:106,itemHeight:37,itemGap:26.5,padding:[22,22,20,21],
    backgroundColor:'rgba(255,255,255,.8)',borderColor:'#ccc',borderWidth:2.5,borderRadius:8,
    textStyle:Object.assign(txt(53.3),{padding:[0,0,0,39],lineHeight:52}),
    data:names.map((n,i)=>({name:n,itemStyle:{color:[VIOLET,BLUE,GREEN][i],opacity:.7}}))};
}

const oursHist=g=>hist(g,g===2?'Ours (16 minutes)':'Ours (10,000 samples)',bins(oursBinStart,oursBinWidth,oursDensity).concat([[.36,0]],bins(oursPeakStart,oursBinWidth,oursPeakDensity)),VIOLET,3);

const series=[
  dots(0,dpsUprightLoose,GREEN,'circle',16,.35),
  dots(0,dpsUprightRim,GREEN,'circle',16,.5),
  solid(0,dpsUprightMid,GREEN),
  dots(0,dpsUprightMid,GREEN,'circle',16,.9),
  dots(0,dpsOutlying,GREEN,'circle',16,.7),
  dots(0,dapsUprightLoose,BLUE,'circle',16,.35),
  dots(0,dapsUprightRim,BLUE,'circle',16,.5),
  solid(0,dapsUprightMid,BLUE),
  dots(0,dapsUprightMid,BLUE,'circle',16,.9),
  dots(0,dapsStrayCircles,BLUE,'circle',16,.75),
  dots(0,dpsRotatedDense,GREEN,'triangle',17,.7),
  ...dpsRotatedPatches.map(p=>solid(0,p,GREEN)),
  dots(0,dapsRotatedDense,BLUE,'triangle',17,.7),
  ...dapsRotatedPatches.map(p=>solid(0,p,BLUE)),
  dots(0,oursUprightLoose,VIOLET,'circle',16,.3),
  dots(0,oursUprightRim,VIOLET,'circle',16,.45),
  solid(0,oursUprightMid,VIOLET),
  dots(0,oursUprightMid,VIOLET,'circle',16,.9),
  dots(0,oursRotatedRim,VIOLET,'triangle',17,.42),
  solid(0,oursRotatedSolid,VIOLET),
  notes(0,noteLinesLeft,8),
  dots(1,dpsUprightSparse,GREEN,'circle',16,.5),
  dots(1,dapsUprightSparse,BLUE,'circle',16,.5),
  dots(1,dpsRotatedSparse,GREEN,'triangle',17,.5),
  dots(1,dapsRotatedSparse,BLUE,'triangle',17,.5),
  dots(1,oursUprightLoose,VIOLET,'circle',16,.6),
  dots(1,oursUprightRim,VIOLET,'circle',16,.8),
  solid(1,oursUprightMid,VIOLET),
  dots(1,oursUprightMid,VIOLET,'circle',16,1),
  dots(1,oursRotatedRim,VIOLET,'triangle',17,.8),
  solid(1,oursRotatedSolid,VIOLET),
  notes(1,noteLinesRight,5),
  oursHist(2),
  hist(2,'DAPS (5.3 hours)',bins(dapsBinStart,dapsBinWidth,dapsDensity),BLUE,4),
  hist(2,'DPS (5.8 hours)',bins(dpsBinStart,dpsBinWidth,dpsDensity),GREEN,5),
  truth(2,trueValues[0]),truth(2,trueValues[1]),
  oursHist(3),
  hist(3,'DAPS (512 samples)',bins(daps512Start,daps512Width,daps512Counts.map(c=>c*daps512PerSample)),BLUE,4),
  hist(3,'DAPS fine',dapsFineStrays.concat(bins(dapsFineStart,dapsFineWidth,dapsFineDensity)),BLUE,4),
  hist(3,'DPS (512 samples)',bins(dps512Start,dps512Width,dps512Counts.map(c=>c*dps512PerSample)),GREEN,5),
  hist(3,'DPS fine',bins(dpsFineStart,dpsFineWidth,dpsFineDensity),GREEN,5),
  truth(3,trueValues[0]),truth(3,trueValues[1])
];

const chart=echarts.init(document.getElementById('c'),null,{renderer:'canvas'});
chart.setOption({animation:false,backgroundColor:'#fff',
  title:[
    {text:'(b)',left:24,top:23,textStyle:txt(80)},
    {text:'10,000 samples',left:L+W/2,top:69,textAlign:'center',textStyle:txt(71)},
    {text:'16 minutes',left:R+W/2,top:69,textAlign:'center',textStyle:txt(71)}
  ],
  grid:grids,
  xAxis:[
    axis('x',0,-105.3,107.7,xTicks,'t-SNE Dimension 1',72,67.7,minus),
    axis('x',1,-104.6,106,xTicks,'t-SNE Dimension 1',72,67.7,minus),
    axis('x',2,.2206,.6702,pixelTicks,'Pixel value',74,71,v=>v.toFixed(1)),
    axis('x',3,.2202,.6695,pixelTicks,'Pixel value',74,71,v=>v.toFixed(1))
  ],
  yAxis:[
    axis('y',0,-97.4,93.9,yTicks,'t-SNE Dimension 2',119,67.7,minus),
    axis('y',1,-96,93.8,yTicks,'t-SNE Dimension 2',119,67.7,minus),
    axis('y',2,0,40.9,densityTicks,'Posterior density',91,71,v=>String(v)),
    axis('y',3,0,40.9,densityTicks,'Posterior density',91,71,v=>String(v))
  ],
  legend:[legend(255,['Ours (16 minutes)','DAPS (5.3 hours)','DPS (5.8 hours)']),legend(1646,['Ours (10,000 samples)','DAPS (512 samples)','DPS (512 samples)'])],
  series});
</script></body></html>
